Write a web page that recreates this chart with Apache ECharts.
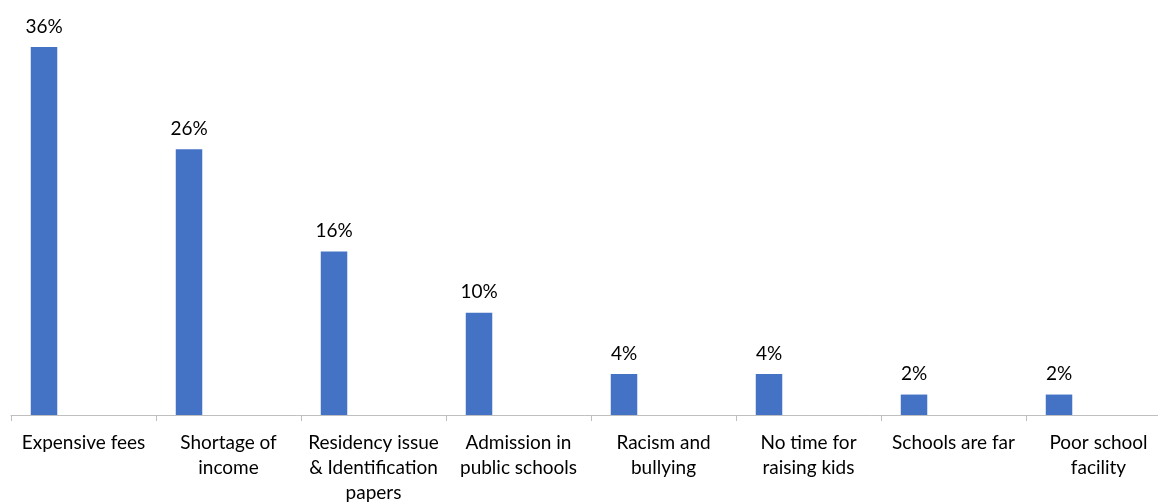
<!DOCTYPE html>
<html><head><meta charset="utf-8">
<script src="https://cdn.jsdelivr.net/npm/echarts@6/dist/echarts.min.js"></script>
<style>html,body{margin:0;padding:0;background:#fff}#c{width:1158px;height:504px}</style>
</head><body><div id="c"></div>
<script>
const categories = ['Expensive fees', 'Shortage of\nincome', 'Residency issue\n& Identification\npapers', 'Admission in\npublic schools', 'Racism and\nbullying', 'No time for\nraising kids', 'Schools are far', 'Poor school\nfacility'];
const values = [36, 26, 16, 10, 4, 4, 2, 2];
const chart = echarts.init(document.getElementById('c'));
chart.setOption({
  animation: false,
  textStyle: { fontFamily: 'Lato' },
  grid: { left: 11, width: 1160, top: 6, height: 409, containLabel: false, outerBoundsMode: 'none' },
  xAxis: {
    type: 'category', data: categories,
    axisLine: { lineStyle: { color: '#bfbfbf', width: 1 } },
    axisTick: { show: true, length: 6, lineStyle: { color: '#bfbfbf' } },
    axisLabel: { color: '#000', fontSize: 19, fontFamily: 'Lato', lineHeight: 25, margin: 15, interval: 0 }
  },
  yAxis: { type: 'value', min: 0, max: 40, show: false, splitLine: { show: false } },
  series: [
    { type: 'bar', data: values, barWidth: 26.5, barGap: '198%',
      itemStyle: { color: '#4472C4' },
      label: { show: true, position: 'top', distance: 11, color: '#000', fontSize: 19, fontFamily: 'Lato', formatter: p => p.value + '%' } },
    { type: 'bar', data: values.map(() => '-'), barWidth: 26.5 }
  ]
});
</script></body></html>
